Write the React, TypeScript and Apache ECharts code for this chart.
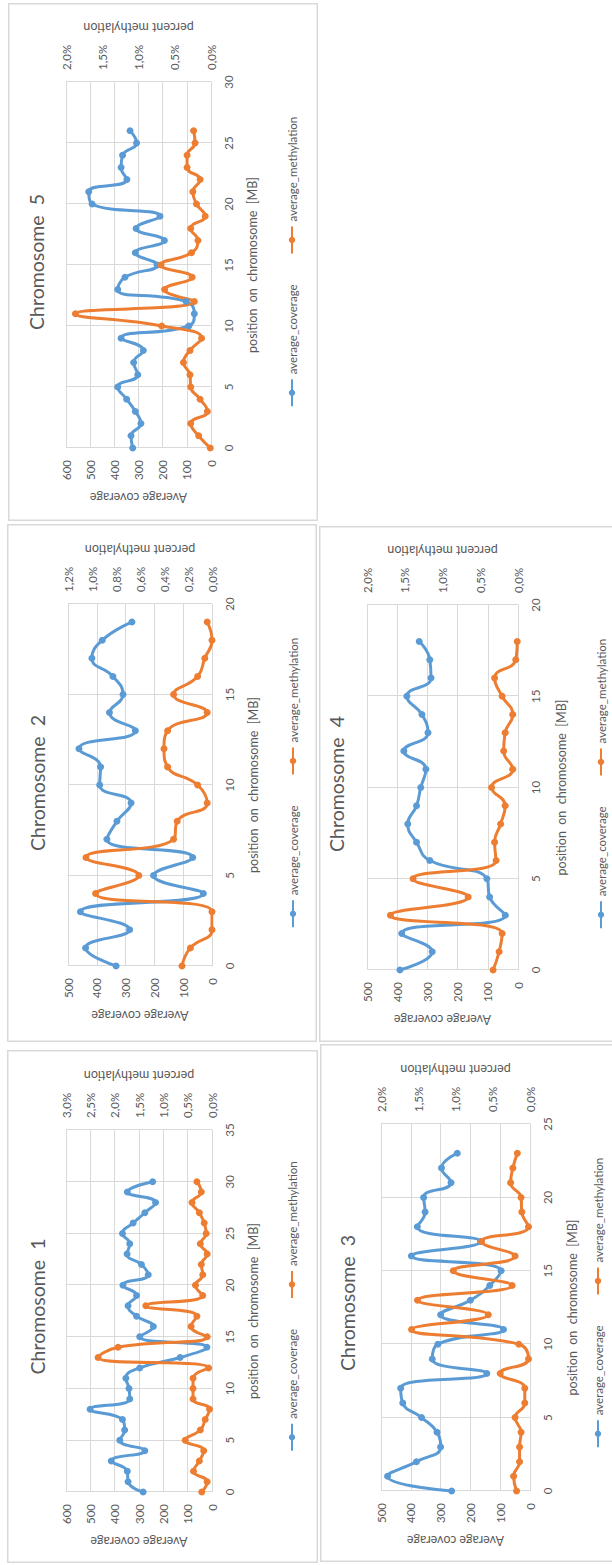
import React, { useEffect, useRef } from "react";
import * as echarts from "echarts";

// Chromosome 1
const chr1Position = [0, 1, 2, 3, 4, 5, 6, 7, 8, 9, 10, 11, 12, 13, 14, 15, 16, 17, 18, 19, 20, 21, 22, 23, 24, 25, 26, 27, 28, 29, 30];
const chr1Coverage = [283, 345, 348, 414, 276, 379, 359, 368, 501, 338, 341, 354, 297, 131, 21, 297, 241, 310, 345, 310, 366, 262, 290, 349, 338, 368, 324, 276, 232, 348, 244];
const chr1Methylation = [0.21, 0.1, 0.38, 0.26, 0.17, 0.55, 0.24, 0.14, 0.05, 0.39, 0.39, 0.39, 0.07, 2.34, 1.93, 0.1, 0.43, 0.31, 1.36, 0.19, 0.34, 0.19, 0.22, 0.1, 0.24, 0.12, 0.16, 0.26, 0.41, 0.22, 0.31];

// Chromosome 2
const chr2Position = [0, 1, 2, 3, 4, 5, 6, 7, 8, 9, 10, 11, 12, 13, 14, 15, 16, 17, 18, 19];
const chr2Coverage = [333, 439, 286, 457, 30, 203, 67, 365, 330, 281, 390, 387, 462, 266, 356, 309, 344, 417, 381, 278];
const chr2Methylation = [0.25, 0.18, 0.0, 0.0, 0.97, 0.61, 1.05, 0.32, 0.29, 0.04, 0.12, 0.37, 0.4, 0.37, 0.04, 0.32, 0.12, 0.06, 0.0, 0.04];

// Chromosome 3
const chr3Position = [0, 1, 2, 3, 4, 5, 6, 7, 8, 9, 10, 11, 12, 13, 14, 15, 16, 17, 18, 19, 20, 21, 22, 23];
const chr3Coverage = [263, 478, 381, 300, 312, 364, 427, 434, 145, 328, 309, 89, 300, 200, 135, 97, 398, 166, 378, 352, 357, 265, 297, 244];
const chr3Methylation = [0.18, 0.22, 0.14, 0.14, 0.12, 0.2, 0.07, 0.07, 0.4, 0.02, 0.15, 1.59, 0.56, 1.51, 0.24, 1.03, 0.2, 0.65, 0.02, 0.11, 0.12, 0.26, 0.23, 0.17];

// Chromosome 4
const chr4Position = [0, 1, 2, 3, 4, 5, 6, 7, 8, 9, 10, 11, 12, 13, 14, 15, 16, 17, 18];
const chr4Coverage = [391, 284, 385, 42, 94, 103, 292, 336, 365, 336, 322, 305, 378, 298, 318, 368, 288, 292, 327];
const chr4Methylation = [0.33, 0.25, 0.21, 1.69, 0.66, 1.39, 0.29, 0.31, 0.23, 0.17, 0.35, 0.07, 0.19, 0.17, 0.07, 0.21, 0.31, 0.03, 0.01];

// Chromosome 5
const chr5Position = [0, 1, 2, 3, 4, 5, 6, 7, 8, 9, 10, 11, 12, 13, 14, 15, 16, 17, 18, 19, 20, 21, 22, 23, 24, 25, 26];
const chr5Coverage = [324, 331, 290, 313, 349, 386, 303, 320, 280, 372, 92, 69, 103, 386, 356, 223, 313, 193, 310, 211, 492, 506, 348, 372, 366, 308, 335];
const chr5Methylation = [0.01, 0.17, 0.28, 0.05, 0.15, 0.28, 0.29, 0.38, 0.29, 0.13, 0.68, 1.87, 0.23, 0.64, 0.26, 0.69, 0.27, 0.18, 0.28, 0.08, 0.2, 0.25, 0.15, 0.33, 0.33, 0.22, 0.24];

const COVERAGE_NAME = "average_coverage";
const METHYLATION_NAME = "average_methylation";
const POSITION_AXIS_NAME = "position\u00a0 on\u00a0 chromosome\u00a0 [MB]";
const COVERAGE_AXIS_NAME = "Average coverage";
const METHYLATION_AXIS_NAME = "percent methylation";

const FONT = "Lato, 'Open Sans', 'DejaVu Sans', sans-serif";
const BLUE = "#5B9BD5";
const ORANGE = "#ED7D31";
const GRID_COLOR = "#d9d9d9";
const TEXT_COLOR = "#595959";

type PanelSpec = {
  title: string;
  position: number[];
  coverage: number[];
  methylation: number[];
  posMax: number;
  covMax: number;
  methMax: number;
  methStep: number;
  // page placement of the rotated panel
  left: number;
  bottom: number;
  width: number;
  height: number;
  // layout inside the (unrotated) chart
  gridLeft: number;
  gridRight: number;
  gridTop: number;
  gridBottom: number;
  titleV: number;
  legendV: number;
  xNameGap: number;
};

const panels: PanelSpec[] = [
  {
    title: "Chromosome\u00a0 5",
    position: chr5Position, coverage: chr5Coverage, methylation: chr5Methylation,
    posMax: 30, covMax: 600, methMax: 2, methStep: 0.5,
    left: 8, bottom: 521, width: 518, height: 310,
    gridLeft: 73, gridRight: 79, gridTop: 58, gridBottom: 107,
    titleV: 28, legendV: 285, xNameGap: 35,
  },
  {
    title: "Chromosome\u00a0 2",
    position: chr2Position, coverage: chr2Coverage, methylation: chr2Methylation,
    posMax: 20, covMax: 500, methMax: 1.2, methStep: 0.2,
    left: 7, bottom: 1042, width: 518, height: 310,
    gridLeft: 76, gridRight: 80, gridTop: 61, gridBottom: 105,
    titleV: 30, legendV: 287, xNameGap: 35,
  },
  {
    title: "Chromosome\u00a0 1",
    position: chr1Position, coverage: chr1Coverage, methylation: chr1Methylation,
    posMax: 35, covMax: 600, methMax: 3, methStep: 0.5,
    left: 7, bottom: 1563, width: 513, height: 311,
    gridLeft: 71, gridRight: 80, gridTop: 59, gridBottom: 106,
    titleV: 30, legendV: 286, xNameGap: 35,
  },
  {
    title: "Chromosome\u00a0 4",
    position: chr4Position, coverage: chr4Coverage, methylation: chr4Methylation,
    posMax: 20, covMax: 500, methMax: 2, methStep: 0.5,
    left: 319, bottom: 1042, width: 516, height: 310,
    gridLeft: 72, gridRight: 79, gridTop: 48, gridBottom: 111,
    titleV: 17, legendV: 283, xNameGap: 37,
  },
  {
    title: "Chromosome\u00a0 3",
    position: chr3Position, coverage: chr3Coverage, methylation: chr3Methylation,
    posMax: 25, covMax: 500, methMax: 2, methStep: 0.5,
    left: 320, bottom: 1562, width: 518, height: 318,
    gridLeft: 71, gridRight: 80, gridTop: 61, gridBottom: 108,
    titleV: 27, legendV: 279, xNameGap: 36,
  },
];

const percentLabel = (v: number) => v.toFixed(1).replace(".", ",") + "%";

function buildOption(p: PanelSpec) {
  const pairs = (ys: number[]) => p.position.map((x, i) => [x, ys[i]]);
  const tickText = { color: TEXT_COLOR, fontSize: 11.5, fontFamily: FONT };
  const nameText = { color: TEXT_COLOR, fontSize: 12.5, fontFamily: FONT };
  const lineSeries = (name: string, axis: number, values: number[], color: string) => ({
    name,
    type: "line",
    yAxisIndex: axis,
    data: pairs(values),
    smooth: 0.5,
    symbol: "circle",
    symbolSize: 7,
    lineStyle: { color, width: 3 },
    itemStyle: { color },
  });
  return {
    animation: false,
    backgroundColor: "#ffffff",
    title: {
      text: p.title,
      left: "center",
      top: p.titleV - 10,
      padding: 0,
      textStyle: { color: TEXT_COLOR, fontSize: 19.5, fontWeight: "normal", fontFamily: FONT },
    },
    legend: {
      data: [COVERAGE_NAME, METHYLATION_NAME],
      left: "center",
      top: p.legendV - 7,
      itemWidth: 27,
      itemHeight: 8,
      itemGap: 30,
      padding: 0,
      textStyle: { color: TEXT_COLOR, fontSize: 11.5, fontFamily: FONT },
    },
    grid: {
      left: p.gridLeft,
      right: p.gridRight,
      top: p.gridTop,
      bottom: p.gridBottom,
      containLabel: false,
    },
    xAxis: {
      type: "value",
      min: 0,
      max: p.posMax,
      interval: 5,
      name: POSITION_AXIS_NAME,
      nameLocation: "middle",
      nameGap: p.xNameGap,
      nameTextStyle: nameText,
      axisLine: { show: true, lineStyle: { color: GRID_COLOR, width: 1 } },
      axisTick: { show: false },
      axisLabel: { ...tickText, margin: 11 },
      splitLine: { show: true, lineStyle: { color: GRID_COLOR, width: 1 } },
    },
    yAxis: [
      {
        type: "value",
        position: "left",
        min: 0,
        max: p.covMax,
        interval: 100,
        name: COVERAGE_AXIS_NAME,
        nameLocation: "middle",
        nameGap: 37,
        nameTextStyle: nameText,
        axisLine: { show: false },
        axisTick: { show: false },
        axisLabel: { ...tickText, margin: 12 },
        splitLine: { show: true, lineStyle: { color: GRID_COLOR, width: 1 } },
      },
      {
        type: "value",
        position: "right",
        min: 0,
        max: p.methMax,
        interval: p.methStep,
        name: METHYLATION_AXIS_NAME,
        nameLocation: "middle",
        nameGap: 47,
        nameTextStyle: nameText,
        axisLine: { show: false },
        axisTick: { show: false },
        axisLabel: { ...tickText, margin: 12, formatter: percentLabel },
        splitLine: { show: false },
      },
    ],
    series: [
      lineSeries(COVERAGE_NAME, 0, p.coverage, BLUE),
      lineSeries(METHYLATION_NAME, 1, p.methylation, ORANGE),
    ],
    graphic: [
      {
        type: "rect",
        silent: true,
        shape: { x: 0.75, y: 0.75, width: p.width - 1.5, height: p.height - 1.5 },
        style: { fill: "none", stroke: GRID_COLOR, lineWidth: 1.5 },
      },
    ],
  };
}

function ChartPanel({ spec }: { spec: PanelSpec }) {
  const ref = useRef<HTMLDivElement>(null);
  useEffect(() => {
    if (!ref.current) return;
    const chart = echarts.init(ref.current, undefined, { renderer: "svg" });
    chart.setOption(buildOption(spec));
    return () => chart.dispose();
  }, [spec]);
  // each chart is laid out upright, then turned a quarter turn counter-clockwise
  return (
    <div
      ref={ref}
      style={{
        position: "absolute",
        left: spec.left,
        top: spec.bottom,
        width: spec.width,
        height: spec.height,
        transformOrigin: "0 0",
        transform: "rotate(-90deg)",
      }}
    />
  );
}

export default function App() {
  return (
    <div
      style={{
        position: "absolute",
        left: 0,
        top: 0,
        width: 612,
        height: 1565,
        overflow: "hidden",
        background: "#ffffff",
      }}
    >
      {panels.map((p) => (
        <ChartPanel key={p.title} spec={p} />
      ))}
    </div>
  );
}
